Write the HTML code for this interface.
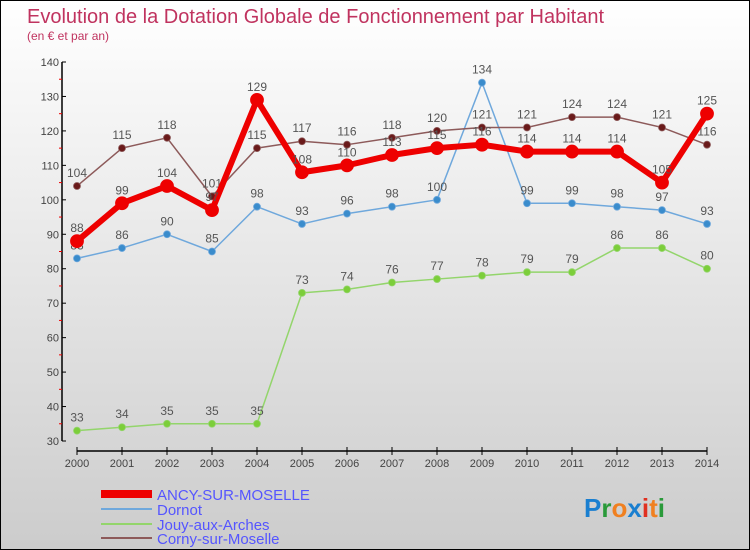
<!DOCTYPE html>
<html><head><meta charset="utf-8"><style>
body{margin:0;}
#c{width:750px;height:550px;position:relative;overflow:hidden;box-sizing:border-box;border:1px solid #000;background:linear-gradient(#fff,#ccc);font-family:"Liberation Sans",sans-serif;}
</style></head><body>
<div id="c">
<svg id="s" width="750" height="550" xmlns="http://www.w3.org/2000/svg">
<text x="26" y="22" font-size="20" fill="#c0335f">Evolution de la Dotation Globale de Fonctionnement par Habitant</text>
<text x="26" y="39" font-size="12" fill="#c0335f">(en € et par an)</text>
<g id="axes"></g><g id="series"></g>
<g>
<rect x="100" y="489" width="51" height="8" fill="#e00"/>
<text x="156" y="499" font-size="15" fill="#55f">ANCY-SUR-MOSELLE</text>
<line x1="100" y1="508" x2="151" y2="508" stroke="#6fa8dc" stroke-width="2"/>
<text x="156" y="514" font-size="15" fill="#55f">Dornot</text>
<line x1="100" y1="523" x2="151" y2="523" stroke="#93d56b" stroke-width="2"/>
<text x="156" y="529" font-size="15" fill="#55f">Jouy-aux-Arches</text>
<line x1="100" y1="537" x2="151" y2="537" stroke="#8d5a5a" stroke-width="2"/>
<text x="156" y="543" font-size="15" fill="#55f">Corny-sur-Moselle</text>
</g>
<text x="583" y="516" font-size="26" font-weight="bold"><tspan fill="#1a7fd0">P</tspan><tspan fill="#2a9a3a">r</tspan><tspan fill="#f08020">o</tspan><tspan fill="#1a7fd0">x</tspan><tspan fill="#e03020">i</tspan><tspan fill="#f08020">t</tspan><tspan fill="#2a9a3a">i</tspan></text>
</svg>
</div>
<script>
const years=[2000,2001,2002,2003,2004,2005,2006,2007,2008,2009,2010,2011,2012,2013,2014];
const yTicks=[30,40,50,60,70,80,90,100,110,120,130,140];
const ancy=[88,99,104,97,129,108,110,113,115,116,114,114,114,105,125];
const dornot=[83,86,90,85,98,93,96,98,100,134,99,99,98,97,93];
const jouy=[33,34,35,35,35,73,74,76,77,78,79,79,86,86,80];
const corny=[104,115,118,101,115,117,116,118,120,121,121,124,124,121,116];
const NS='http://www.w3.org/2000/svg';
const X=i=>76+i*45;
const Y=v=>440-(v-30)*(379/110);
function mk(t,a,p){const e=document.createElementNS(NS,t);for(const k in a)e.setAttribute(k,a[k]);p.appendChild(e);return e;}
const ax=document.getElementById('axes');
let l=mk('line',{x1:61,y1:61,x2:61,y2:440,stroke:'#000','stroke-width':1.5},ax);


l=mk('line',{x1:76,y1:450,x2:706,y2:450,stroke:'#000','stroke-width':1.5},ax);


yTicks.forEach((v,i)=>{
 mk('line',{x1:61,y1:Y(v),x2:65,y2:Y(v),stroke:'#000'},ax);
 if(i<yTicks.length-1)mk('line',{x1:58,y1:Y(v+5),x2:61,y2:Y(v+5),stroke:'#e00'},ax);
 const t=mk('text',{x:58,y:Y(v)+4,'font-size':11,fill:'#444','text-anchor':'end'},ax);t.textContent=v;
 
 
});
years.forEach((y,i)=>{
 mk('line',{x1:X(i),y1:446,x2:X(i),y2:454,stroke:'#000'},ax);
 const t=mk('text',{x:X(i),y:466,'font-size':11,fill:'#444','text-anchor':'middle'},ax);t.textContent=y;
 
 
});
const sg=document.getElementById('series');
function draw(vals,name,col,w,r,dot){
 const g=mk('g',{},sg);
 
 
 const p=mk('polyline',{points:vals.map((v,i)=>X(i)+','+Y(v)).join(' '),fill:'none',stroke:col,'stroke-width':w,'stroke-linejoin':'round'},g);
 
 
 vals.forEach((v,i)=>{
  const c=mk('circle',{cx:X(i),cy:Y(v),r:r,fill:dot,stroke:col,'stroke-width':0.8},g);
  
  
  const t=mk('text',{x:X(i),y:Y(v)-9,'font-size':12,fill:'#555','text-anchor':'middle'},g);t.textContent=v;
  
  
 });
}
draw(jouy,'jouy','#93d56b',1.5,3.5,'#7cce3a');
draw(dornot,'dornot','#6fa8dc',1.5,3.5,'#3a8ccc');
draw(corny,'corny','#8d5a5a',1.5,3.5,'#6a1a1a');
draw(ancy,'ancy','#ee0000',6,6.5,'#ee0000');
</script>
</body></html>
